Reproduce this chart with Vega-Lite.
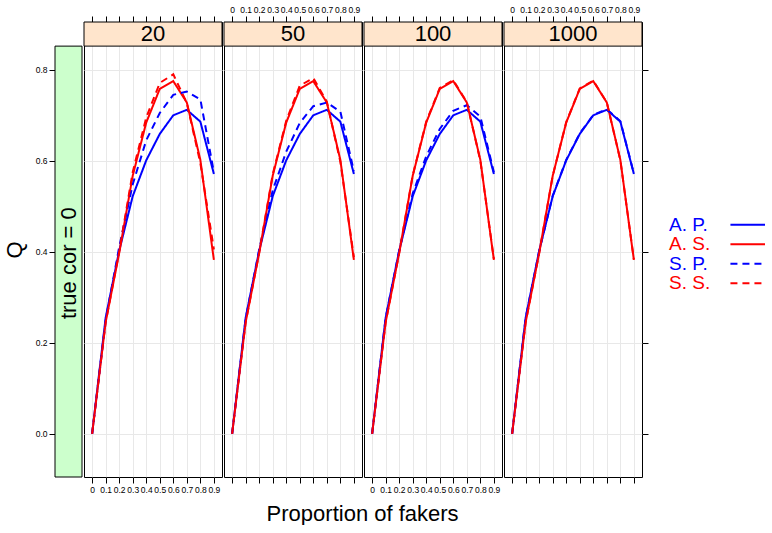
{
  "$schema": "https://vega.github.io/schema/vega-lite/v6.json",
  "padding": {"left": 3, "top": 4, "right": 0, "bottom": 0},
  "config": {
    "font": "Liberation Sans",
    "axis": {"labelFontSize": 8.5, "labelColor": "black", "tickColor": "black", "domain": false, "gridColor": "#E8E8E8", "tickSize": 6, "labelPadding": 2, "labelOverlap": false, "labelFlush": false, "labelFont": "Liberation Sans"},
    "text": {"font": "Liberation Sans", "color": "black"}
  },
  "title": {"text": "Proportion of fakers", "orient": "bottom", "anchor": "middle", "fontSize": 22, "fontWeight": "normal", "font": "Liberation Sans", "color": "black", "offset": 10, "dx": -22},
  "datasets": {
    "lines": [
      {"N":"20","series":"A. P.","x":0,"Q":0},{"N":"20","series":"A. P.","x":0.1,"Q":0.255},{"N":"20","series":"A. P.","x":0.2,"Q":0.402},{"N":"20","series":"A. P.","x":0.3,"Q":0.522},{"N":"20","series":"A. P.","x":0.4,"Q":0.601},{"N":"20","series":"A. P.","x":0.5,"Q":0.659},{"N":"20","series":"A. P.","x":0.6,"Q":0.7},{"N":"20","series":"A. P.","x":0.7,"Q":0.712},{"N":"20","series":"A. P.","x":0.8,"Q":0.686},{"N":"20","series":"A. P.","x":0.9,"Q":0.571},
      {"N":"20","series":"A. S.","x":0,"Q":0},{"N":"20","series":"A. S.","x":0.1,"Q":0.245},{"N":"20","series":"A. S.","x":0.2,"Q":0.397},{"N":"20","series":"A. S.","x":0.3,"Q":0.567},{"N":"20","series":"A. S.","x":0.4,"Q":0.684},{"N":"20","series":"A. S.","x":0.5,"Q":0.758},{"N":"20","series":"A. S.","x":0.6,"Q":0.775},{"N":"20","series":"A. S.","x":0.7,"Q":0.728},{"N":"20","series":"A. S.","x":0.8,"Q":0.602},{"N":"20","series":"A. S.","x":0.9,"Q":0.382},
      {"N":"20","series":"S. P.","x":0,"Q":0},{"N":"20","series":"S. P.","x":0.1,"Q":0.25},{"N":"20","series":"S. P.","x":0.2,"Q":0.41},{"N":"20","series":"S. P.","x":0.3,"Q":0.548},{"N":"20","series":"S. P.","x":0.4,"Q":0.645},{"N":"20","series":"S. P.","x":0.5,"Q":0.705},{"N":"20","series":"S. P.","x":0.6,"Q":0.745},{"N":"20","series":"S. P.","x":0.7,"Q":0.752},{"N":"20","series":"S. P.","x":0.8,"Q":0.735},{"N":"20","series":"S. P.","x":0.9,"Q":0.575},
      {"N":"20","series":"S. S.","x":0,"Q":0},{"N":"20","series":"S. S.","x":0.1,"Q":0.245},{"N":"20","series":"S. S.","x":0.2,"Q":0.4},{"N":"20","series":"S. S.","x":0.3,"Q":0.575},{"N":"20","series":"S. S.","x":0.4,"Q":0.695},{"N":"20","series":"S. S.","x":0.5,"Q":0.771},{"N":"20","series":"S. S.","x":0.6,"Q":0.79},{"N":"20","series":"S. S.","x":0.7,"Q":0.727},{"N":"20","series":"S. S.","x":0.8,"Q":0.595},{"N":"20","series":"S. S.","x":0.9,"Q":0.405},

      {"N":"50","series":"A. P.","x":0,"Q":0},{"N":"50","series":"A. P.","x":0.1,"Q":0.255},{"N":"50","series":"A. P.","x":0.2,"Q":0.402},{"N":"50","series":"A. P.","x":0.3,"Q":0.522},{"N":"50","series":"A. P.","x":0.4,"Q":0.601},{"N":"50","series":"A. P.","x":0.5,"Q":0.659},{"N":"50","series":"A. P.","x":0.6,"Q":0.7},{"N":"50","series":"A. P.","x":0.7,"Q":0.712},{"N":"50","series":"A. P.","x":0.8,"Q":0.686},{"N":"50","series":"A. P.","x":0.9,"Q":0.571},
      {"N":"50","series":"A. S.","x":0,"Q":0},{"N":"50","series":"A. S.","x":0.1,"Q":0.245},{"N":"50","series":"A. S.","x":0.2,"Q":0.397},{"N":"50","series":"A. S.","x":0.3,"Q":0.567},{"N":"50","series":"A. S.","x":0.4,"Q":0.684},{"N":"50","series":"A. S.","x":0.5,"Q":0.758},{"N":"50","series":"A. S.","x":0.6,"Q":0.775},{"N":"50","series":"A. S.","x":0.7,"Q":0.728},{"N":"50","series":"A. S.","x":0.8,"Q":0.602},{"N":"50","series":"A. S.","x":0.9,"Q":0.382},
      {"N":"50","series":"S. P.","x":0,"Q":0},{"N":"50","series":"S. P.","x":0.1,"Q":0.253},{"N":"50","series":"S. P.","x":0.2,"Q":0.405},{"N":"50","series":"S. P.","x":0.3,"Q":0.535},{"N":"50","series":"S. P.","x":0.4,"Q":0.62},{"N":"50","series":"S. P.","x":0.5,"Q":0.683},{"N":"50","series":"S. P.","x":0.6,"Q":0.72},{"N":"50","series":"S. P.","x":0.7,"Q":0.728},{"N":"50","series":"S. P.","x":0.8,"Q":0.708},{"N":"50","series":"S. P.","x":0.9,"Q":0.577},
      {"N":"50","series":"S. S.","x":0,"Q":0},{"N":"50","series":"S. S.","x":0.1,"Q":0.245},{"N":"50","series":"S. S.","x":0.2,"Q":0.398},{"N":"50","series":"S. S.","x":0.3,"Q":0.57},{"N":"50","series":"S. S.","x":0.4,"Q":0.688},{"N":"50","series":"S. S.","x":0.5,"Q":0.765},{"N":"50","series":"S. S.","x":0.6,"Q":0.782},{"N":"50","series":"S. S.","x":0.7,"Q":0.73},{"N":"50","series":"S. S.","x":0.8,"Q":0.598},{"N":"50","series":"S. S.","x":0.9,"Q":0.388},

      {"N":"100","series":"A. P.","x":0,"Q":0},{"N":"100","series":"A. P.","x":0.1,"Q":0.255},{"N":"100","series":"A. P.","x":0.2,"Q":0.402},{"N":"100","series":"A. P.","x":0.3,"Q":0.522},{"N":"100","series":"A. P.","x":0.4,"Q":0.601},{"N":"100","series":"A. P.","x":0.5,"Q":0.659},{"N":"100","series":"A. P.","x":0.6,"Q":0.7},{"N":"100","series":"A. P.","x":0.7,"Q":0.712},{"N":"100","series":"A. P.","x":0.8,"Q":0.686},{"N":"100","series":"A. P.","x":0.9,"Q":0.571},
      {"N":"100","series":"A. S.","x":0,"Q":0},{"N":"100","series":"A. S.","x":0.1,"Q":0.245},{"N":"100","series":"A. S.","x":0.2,"Q":0.397},{"N":"100","series":"A. S.","x":0.3,"Q":0.567},{"N":"100","series":"A. S.","x":0.4,"Q":0.684},{"N":"100","series":"A. S.","x":0.5,"Q":0.758},{"N":"100","series":"A. S.","x":0.6,"Q":0.775},{"N":"100","series":"A. S.","x":0.7,"Q":0.728},{"N":"100","series":"A. S.","x":0.8,"Q":0.602},{"N":"100","series":"A. S.","x":0.9,"Q":0.382},
      {"N":"100","series":"S. P.","x":0,"Q":0},{"N":"100","series":"S. P.","x":0.1,"Q":0.255},{"N":"100","series":"S. P.","x":0.2,"Q":0.403},{"N":"100","series":"S. P.","x":0.3,"Q":0.528},{"N":"100","series":"S. P.","x":0.4,"Q":0.61},{"N":"100","series":"S. P.","x":0.5,"Q":0.67},{"N":"100","series":"S. P.","x":0.6,"Q":0.71},{"N":"100","series":"S. P.","x":0.7,"Q":0.722},{"N":"100","series":"S. P.","x":0.8,"Q":0.697},{"N":"100","series":"S. P.","x":0.9,"Q":0.575},
      {"N":"100","series":"S. S.","x":0,"Q":0},{"N":"100","series":"S. S.","x":0.1,"Q":0.245},{"N":"100","series":"S. S.","x":0.2,"Q":0.397},{"N":"100","series":"S. S.","x":0.3,"Q":0.568},{"N":"100","series":"S. S.","x":0.4,"Q":0.686},{"N":"100","series":"S. S.","x":0.5,"Q":0.76},{"N":"100","series":"S. S.","x":0.6,"Q":0.777},{"N":"100","series":"S. S.","x":0.7,"Q":0.729},{"N":"100","series":"S. S.","x":0.8,"Q":0.6},{"N":"100","series":"S. S.","x":0.9,"Q":0.384},

      {"N":"1000","series":"A. P.","x":0,"Q":0},{"N":"1000","series":"A. P.","x":0.1,"Q":0.255},{"N":"1000","series":"A. P.","x":0.2,"Q":0.402},{"N":"1000","series":"A. P.","x":0.3,"Q":0.522},{"N":"1000","series":"A. P.","x":0.4,"Q":0.601},{"N":"1000","series":"A. P.","x":0.5,"Q":0.659},{"N":"1000","series":"A. P.","x":0.6,"Q":0.7},{"N":"1000","series":"A. P.","x":0.7,"Q":0.712},{"N":"1000","series":"A. P.","x":0.8,"Q":0.686},{"N":"1000","series":"A. P.","x":0.9,"Q":0.571},
      {"N":"1000","series":"A. S.","x":0,"Q":0},{"N":"1000","series":"A. S.","x":0.1,"Q":0.245},{"N":"1000","series":"A. S.","x":0.2,"Q":0.397},{"N":"1000","series":"A. S.","x":0.3,"Q":0.567},{"N":"1000","series":"A. S.","x":0.4,"Q":0.684},{"N":"1000","series":"A. S.","x":0.5,"Q":0.758},{"N":"1000","series":"A. S.","x":0.6,"Q":0.775},{"N":"1000","series":"A. S.","x":0.7,"Q":0.728},{"N":"1000","series":"A. S.","x":0.8,"Q":0.602},{"N":"1000","series":"A. S.","x":0.9,"Q":0.382},
      {"N":"1000","series":"S. P.","x":0,"Q":0},{"N":"1000","series":"S. P.","x":0.1,"Q":0.255},{"N":"1000","series":"S. P.","x":0.2,"Q":0.402},{"N":"1000","series":"S. P.","x":0.3,"Q":0.523},{"N":"1000","series":"S. P.","x":0.4,"Q":0.602},{"N":"1000","series":"S. P.","x":0.5,"Q":0.66},{"N":"1000","series":"S. P.","x":0.6,"Q":0.701},{"N":"1000","series":"S. P.","x":0.7,"Q":0.713},{"N":"1000","series":"S. P.","x":0.8,"Q":0.687},{"N":"1000","series":"S. P.","x":0.9,"Q":0.572},
      {"N":"1000","series":"S. S.","x":0,"Q":0},{"N":"1000","series":"S. S.","x":0.1,"Q":0.245},{"N":"1000","series":"S. S.","x":0.2,"Q":0.397},{"N":"1000","series":"S. S.","x":0.3,"Q":0.567},{"N":"1000","series":"S. S.","x":0.4,"Q":0.685},{"N":"1000","series":"S. S.","x":0.5,"Q":0.759},{"N":"1000","series":"S. S.","x":0.6,"Q":0.776},{"N":"1000","series":"S. S.","x":0.7,"Q":0.728},{"N":"1000","series":"S. S.","x":0.8,"Q":0.601},{"N":"1000","series":"S. S.","x":0.9,"Q":0.383}
    ],
    "strips": [{"N":"20"},{"N":"50"},{"N":"100"},{"N":"1000"}],
    "rowstrip": [{"label":"true cor = 0"}],
    "legend": [{"series":"A. P."},{"series":"A. S."},{"series":"S. P."},{"series":"S. S."}]
  },
  "spacing": 20,
  "center": true,
  "hconcat": [
    {
      "spacing": 0,
      "hconcat": [
        {
          "width": 27, "height": 455,
          "view": {"stroke": null},
          "data": {"name": "rowstrip"},
          "resolve": {"axis": {"y": "independent"}},
          "layer": [
            {
              "mark": {"type": "rect", "fill": "#CCFFCC", "stroke": "black", "strokeWidth": 1},
              "encoding": {
                "x": {"datum": 0, "scale": {"domain": [0, 1], "nice": false}, "axis": null},
                "x2": {"datum": 1},
                "y": {"datum": -0.095, "scale": {"domain": [-0.095, 0.905], "nice": false, "zero": false}, "axis": {"orient": "left", "values": [0, 0.2, 0.4, 0.6, 0.8], "format": ".1f", "grid": false, "title": "Q", "titleFontSize": 22, "titleFontWeight": "normal", "titleFont": "Liberation Sans", "titleColor": "black", "titlePadding": 9}},
                "y2": {"datum": 0.852}
              }
            },
            {
              "mark": {"type": "text", "angle": 270, "fontSize": 22, "align": "center", "baseline": "middle"},
              "encoding": {
                "x": {"datum": 0.5, "scale": {"domain": [0, 1], "nice": false}, "axis": null},
                "y": {"datum": 0.375, "scale": {"domain": [-0.095, 0.905], "nice": false, "zero": false}, "axis": null},
                "text": {"field": "label"}
              }
            }
          ]
        },
        {
          "width": 138, "height": 455,
          "view": {"stroke": "black", "strokeWidth": 1},
          "resolve": {"axis": {"x": "independent", "y": "independent"}},
          "layer": [
            {
              "data": {"name": "lines"},
              "transform": [{"filter": "datum.N == '20'"}],
              "mark": {"type": "line", "strokeWidth": 2},
              "encoding": {
                "x": {"field": "x", "type": "quantitative", "scale": {"domain": [-0.06, 0.96], "nice": false, "zero": false}, "axis": {"orient": "bottom", "values": [0, 0.1, 0.2, 0.3, 0.4, 0.5, 0.6, 0.7, 0.8, 0.9], "format": "~g", "grid": true, "labels": true, "title": null}},
                "y": {"field": "Q", "type": "quantitative", "scale": {"domain": [-0.095, 0.905], "nice": false, "zero": false}, "axis": {"orient": "left", "values": [0, 0.2, 0.4, 0.6, 0.8], "grid": true, "labels": false, "ticks": false, "title": null}},
                "color": {"field": "series", "type": "nominal", "scale": {"domain": ["A. P.", "A. S.", "S. P.", "S. S."], "range": ["#0000FF", "#FF0000", "#0000FF", "#FF0000"]}, "legend": null},
                "strokeDash": {"field": "series", "type": "nominal", "scale": {"domain": ["A. P.", "A. S.", "S. P.", "S. S."], "range": [[1, 0], [1, 0], [7, 5], [7, 5]]}, "legend": null}
              }
            },
            {
              "data": {"name": "strips"},
              "transform": [{"filter": "datum.N == '20'"}],
              "mark": {"type": "rect", "fill": "#FFE5CC", "stroke": "black", "strokeWidth": 1},
              "encoding": {
                "x": {"datum": -0.06, "scale": {"domain": [-0.06, 0.96], "nice": false, "zero": false}, "axis": null},
                "x2": {"datum": 0.96},
                "y": {"datum": 0.852, "axis": null},
                "y2": {"datum": 0.905}
              }
            },
            {
              "data": {"name": "strips"},
              "transform": [{"filter": "datum.N == '20'"}],
              "mark": {"type": "text", "fontSize": 22, "baseline": "middle", "align": "center"},
              "encoding": {
                "x": {"datum": 0.45, "scale": {"domain": [-0.06, 0.96], "nice": false, "zero": false}, "axis": {"orient": "top", "values": [0, 0.1, 0.2, 0.3, 0.4, 0.5, 0.6, 0.7, 0.8, 0.9], "format": "~g", "grid": false, "labels": false, "title": null}},
                "y": {"datum": 0.879, "axis": null},
                "text": {"field": "N"}
              }
            }
          ]
        },
        {
          "width": 138, "height": 455,
          "view": {"stroke": "black", "strokeWidth": 1},
          "resolve": {"axis": {"x": "independent", "y": "independent"}},
          "layer": [
            {
              "data": {"name": "lines"},
              "transform": [{"filter": "datum.N == '50'"}],
              "mark": {"type": "line", "strokeWidth": 2},
              "encoding": {
                "x": {"field": "x", "type": "quantitative", "scale": {"domain": [-0.06, 0.96], "nice": false, "zero": false}, "axis": {"orient": "bottom", "values": [0, 0.1, 0.2, 0.3, 0.4, 0.5, 0.6, 0.7, 0.8, 0.9], "format": "~g", "grid": true, "labels": false, "title": null}},
                "y": {"field": "Q", "type": "quantitative", "scale": {"domain": [-0.095, 0.905], "nice": false, "zero": false}, "axis": {"orient": "left", "values": [0, 0.2, 0.4, 0.6, 0.8], "grid": true, "labels": false, "ticks": false, "title": null}},
                "color": {"field": "series", "type": "nominal", "scale": {"domain": ["A. P.", "A. S.", "S. P.", "S. S."], "range": ["#0000FF", "#FF0000", "#0000FF", "#FF0000"]}, "legend": null},
                "strokeDash": {"field": "series", "type": "nominal", "scale": {"domain": ["A. P.", "A. S.", "S. P.", "S. S."], "range": [[1, 0], [1, 0], [7, 5], [7, 5]]}, "legend": null}
              }
            },
            {
              "data": {"name": "strips"},
              "transform": [{"filter": "datum.N == '50'"}],
              "mark": {"type": "rect", "fill": "#FFE5CC", "stroke": "black", "strokeWidth": 1},
              "encoding": {
                "x": {"datum": -0.06, "scale": {"domain": [-0.06, 0.96], "nice": false, "zero": false}, "axis": null},
                "x2": {"datum": 0.96},
                "y": {"datum": 0.852, "axis": null},
                "y2": {"datum": 0.905}
              }
            },
            {
              "data": {"name": "strips"},
              "transform": [{"filter": "datum.N == '50'"}],
              "mark": {"type": "text", "fontSize": 22, "baseline": "middle", "align": "center"},
              "encoding": {
                "x": {"datum": 0.45, "scale": {"domain": [-0.06, 0.96], "nice": false, "zero": false}, "axis": {"orient": "top", "values": [0, 0.1, 0.2, 0.3, 0.4, 0.5, 0.6, 0.7, 0.8, 0.9], "format": "~g", "grid": false, "labels": true, "title": null}},
                "y": {"datum": 0.879, "axis": null},
                "text": {"field": "N"}
              }
            }
          ]
        },
        {
          "width": 138, "height": 455,
          "view": {"stroke": "black", "strokeWidth": 1},
          "resolve": {"axis": {"x": "independent", "y": "independent"}},
          "layer": [
            {
              "data": {"name": "lines"},
              "transform": [{"filter": "datum.N == '100'"}],
              "mark": {"type": "line", "strokeWidth": 2},
              "encoding": {
                "x": {"field": "x", "type": "quantitative", "scale": {"domain": [-0.06, 0.96], "nice": false, "zero": false}, "axis": {"orient": "bottom", "values": [0, 0.1, 0.2, 0.3, 0.4, 0.5, 0.6, 0.7, 0.8, 0.9], "format": "~g", "grid": true, "labels": true, "title": null}},
                "y": {"field": "Q", "type": "quantitative", "scale": {"domain": [-0.095, 0.905], "nice": false, "zero": false}, "axis": {"orient": "left", "values": [0, 0.2, 0.4, 0.6, 0.8], "grid": true, "labels": false, "ticks": false, "title": null}},
                "color": {"field": "series", "type": "nominal", "scale": {"domain": ["A. P.", "A. S.", "S. P.", "S. S."], "range": ["#0000FF", "#FF0000", "#0000FF", "#FF0000"]}, "legend": null},
                "strokeDash": {"field": "series", "type": "nominal", "scale": {"domain": ["A. P.", "A. S.", "S. P.", "S. S."], "range": [[1, 0], [1, 0], [7, 5], [7, 5]]}, "legend": null}
              }
            },
            {
              "data": {"name": "strips"},
              "transform": [{"filter": "datum.N == '100'"}],
              "mark": {"type": "rect", "fill": "#FFE5CC", "stroke": "black", "strokeWidth": 1},
              "encoding": {
                "x": {"datum": -0.06, "scale": {"domain": [-0.06, 0.96], "nice": false, "zero": false}, "axis": null},
                "x2": {"datum": 0.96},
                "y": {"datum": 0.852, "axis": null},
                "y2": {"datum": 0.905}
              }
            },
            {
              "data": {"name": "strips"},
              "transform": [{"filter": "datum.N == '100'"}],
              "mark": {"type": "text", "fontSize": 22, "baseline": "middle", "align": "center"},
              "encoding": {
                "x": {"datum": 0.45, "scale": {"domain": [-0.06, 0.96], "nice": false, "zero": false}, "axis": {"orient": "top", "values": [0, 0.1, 0.2, 0.3, 0.4, 0.5, 0.6, 0.7, 0.8, 0.9], "format": "~g", "grid": false, "labels": false, "title": null}},
                "y": {"datum": 0.879, "axis": null},
                "text": {"field": "N"}
              }
            }
          ]
        },
        {
          "width": 138, "height": 455,
          "view": {"stroke": "black", "strokeWidth": 1},
          "resolve": {"axis": {"x": "independent", "y": "independent"}},
          "layer": [
            {
              "data": {"name": "lines"},
              "transform": [{"filter": "datum.N == '1000'"}],
              "mark": {"type": "line", "strokeWidth": 2},
              "encoding": {
                "x": {"field": "x", "type": "quantitative", "scale": {"domain": [-0.06, 0.96], "nice": false, "zero": false}, "axis": {"orient": "bottom", "values": [0, 0.1, 0.2, 0.3, 0.4, 0.5, 0.6, 0.7, 0.8, 0.9], "format": "~g", "grid": true, "labels": false, "title": null}},
                "y": {"field": "Q", "type": "quantitative", "scale": {"domain": [-0.095, 0.905], "nice": false, "zero": false}, "axis": {"orient": "right", "values": [0, 0.2, 0.4, 0.6, 0.8], "grid": true, "labels": false, "ticks": true, "title": null}},
                "color": {"field": "series", "type": "nominal", "scale": {"domain": ["A. P.", "A. S.", "S. P.", "S. S."], "range": ["#0000FF", "#FF0000", "#0000FF", "#FF0000"]}, "legend": null},
                "strokeDash": {"field": "series", "type": "nominal", "scale": {"domain": ["A. P.", "A. S.", "S. P.", "S. S."], "range": [[1, 0], [1, 0], [7, 5], [7, 5]]}, "legend": null}
              }
            },
            {
              "data": {"name": "strips"},
              "transform": [{"filter": "datum.N == '1000'"}],
              "mark": {"type": "rect", "fill": "#FFE5CC", "stroke": "black", "strokeWidth": 1},
              "encoding": {
                "x": {"datum": -0.06, "scale": {"domain": [-0.06, 0.96], "nice": false, "zero": false}, "axis": null},
                "x2": {"datum": 0.96},
                "y": {"datum": 0.852, "axis": null},
                "y2": {"datum": 0.905}
              }
            },
            {
              "data": {"name": "strips"},
              "transform": [{"filter": "datum.N == '1000'"}],
              "mark": {"type": "text", "fontSize": 22, "baseline": "middle", "align": "center"},
              "encoding": {
                "x": {"datum": 0.45, "scale": {"domain": [-0.06, 0.96], "nice": false, "zero": false}, "axis": {"orient": "top", "values": [0, 0.1, 0.2, 0.3, 0.4, 0.5, 0.6, 0.7, 0.8, 0.9], "format": "~g", "grid": false, "labels": true, "title": null}},
                "y": {"datum": 0.879, "axis": null},
                "text": {"field": "N"}
              }
            }
          ]
        }
      ]
    },
    {
      "width": 96, "height": 78,
      "view": {"stroke": null},
      "data": {"name": "legend"},
      "layer": [
        {
          "mark": {"type": "text", "align": "left", "baseline": "middle", "fontSize": 19, "yOffset": -4},
          "encoding": {
            "x": {"datum": 0, "scale": {"domain": [0, 1], "nice": false}, "axis": null},
            "y": {"field": "series", "type": "nominal", "sort": ["A. P.", "A. S.", "S. P.", "S. S."], "scale": {"type": "point", "padding": 0.5}, "axis": null},
            "text": {"field": "series"},
            "color": {"field": "series", "type": "nominal", "scale": {"domain": ["A. P.", "A. S.", "S. P.", "S. S."], "range": ["#0000FF", "#FF0000", "#0000FF", "#FF0000"]}, "legend": null}
          }
        },
        {
          "mark": {"type": "rule", "strokeWidth": 2, "yOffset": -4},
          "encoding": {
            "x": {"datum": 0.64, "scale": {"domain": [0, 1], "nice": false}, "axis": null},
            "x2": {"datum": 1},
            "y": {"field": "series", "type": "nominal", "sort": ["A. P.", "A. S.", "S. P.", "S. S."], "axis": null},
            "color": {"field": "series", "type": "nominal", "scale": {"domain": ["A. P.", "A. S.", "S. P.", "S. S."], "range": ["#0000FF", "#FF0000", "#0000FF", "#FF0000"]}, "legend": null},
            "strokeDash": {"field": "series", "type": "nominal", "scale": {"domain": ["A. P.", "A. S.", "S. P.", "S. S."], "range": [[1, 0], [1, 0], [7, 5], [7, 5]]}, "legend": null}
          }
        }
      ]
    }
  ]
}
